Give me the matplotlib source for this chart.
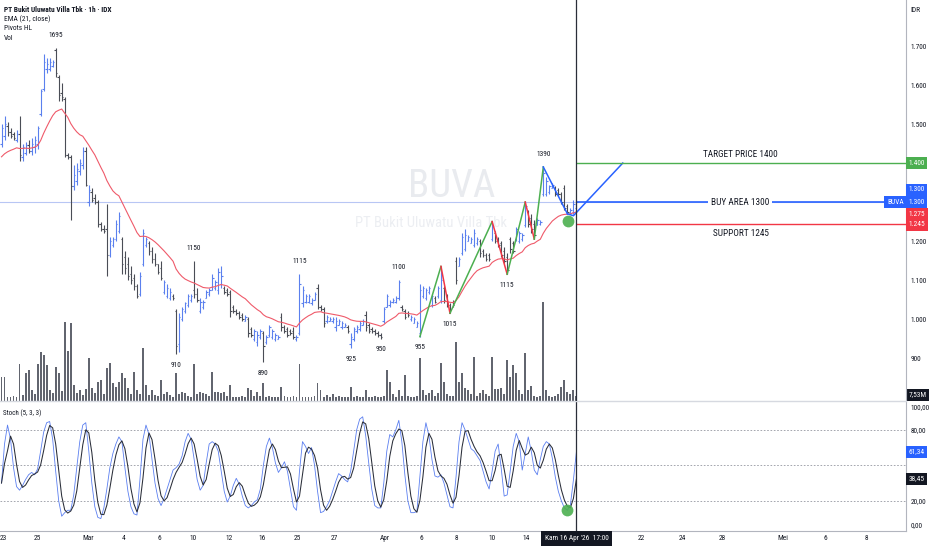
import matplotlib
matplotlib.use("Agg")
import matplotlib.pyplot as plt
import matplotlib.transforms as mtransforms
from matplotlib import font_manager
from matplotlib.ticker import FuncFormatter
import numpy as np
import pandas as pd

# ---------------------------------------------------------------------------
# Data: BUVA, 1h bars, IDX (one bar = one hour)
# ---------------------------------------------------------------------------
opens = [
    1450, 1470, 1495, 1480, 1475, 1460, 1475, 1415, 1425, 1445, 1430, 1440,
    1450, 1525, 1590, 1640, 1640, 1650, 1690, 1620, 1580, 1565, 1420, 1415,
    1340, 1355, 1380, 1395, 1430, 1300, 1325, 1310, 1300, 1245, 1230, 1230,
    1165, 1190, 1205, 1225, 1205, 1160, 1140, 1115, 1105, 1085, 1065, 1140,
    1190, 1195, 1175, 1155, 1140, 1130, 1070, 1060, 1055, 1060, 1020, 935,
    1000, 1020, 1035, 1050, 1075, 1065, 1020, 1030, 1055, 1065, 1075, 1080,
    1075, 1090, 1080, 1075, 1070, 1030, 1020, 1015, 1010, 995, 1000, 975,
    950, 940, 955, 965, 940, 960, 955, 950, 950, 1005, 980, 975,
    970, 970, 950, 965, 1040, 1045, 1045, 1040, 1050, 1080, 1030, 1025,
    995, 995, 995, 980, 985, 980, 980, 980, 935, 950, 970, 975,
    985, 1010, 985, 975, 970, 965, 960, 995, 1030, 1035, 1045, 1045,
    1055, 1030, 1020, 1015, 1000, 990, 980, 965, 1060, 1055, 1070, 1035,
    1055, 1060, 1050, 1080, 1060, 1035, 1045, 1150, 1135, 1170, 1180, 1200,
    1195, 1190, 1195, 1200, 1175, 1165, 1165, 1205, 1220, 1200, 1195, 1175,
    1160, 1205, 1195, 1205, 1200, 1205, 1240, 1275, 1260, 1245, 1240, 1245,
    1320, 1320, 1325, 1335, 1335, 1330, 1320, 1335, 1290, 1270, 1275, 1285,
]
highs = [
    1500, 1520, 1505, 1490, 1480, 1485, 1520, 1450, 1455, 1460, 1465, 1470,
    1495, 1590, 1680, 1670, 1670, 1665, 1695, 1625, 1605, 1570, 1425, 1420,
    1395, 1400, 1410, 1440, 1440, 1345, 1335, 1320, 1305, 1250, 1240, 1295,
    1210, 1210, 1255, 1275, 1210, 1175, 1160, 1135, 1115, 1090, 1120, 1230,
    1210, 1200, 1185, 1170, 1140, 1150, 1100, 1090, 1080, 1065, 1025, 1015,
    1030, 1045, 1065, 1065, 1150, 1080, 1055, 1050, 1075, 1080, 1115, 1100,
    1130, 1135, 1085, 1080, 1075, 1035, 1025, 1020, 1015, 1010, 1005, 980,
    975, 970, 975, 970, 960, 985, 975, 965, 960, 1015, 985, 980,
    975, 980, 960, 1115, 1085, 1065, 1065, 1055, 1070, 1090, 1035, 1030,
    1010, 1005, 1005, 1005, 1000, 995, 990, 985, 965, 980, 985, 995,
    1000, 1020, 990, 980, 975, 970, 965, 1030, 1065, 1050, 1055, 1060,
    1100, 1035, 1025, 1020, 1010, 1005, 995, 1090, 1085, 1080, 1085, 1065,
    1060, 1085, 1135, 1085, 1065, 1040, 1050, 1160, 1160, 1220, 1230, 1215,
    1210, 1230, 1210, 1205, 1180, 1170, 1170, 1250, 1225, 1210, 1200, 1185,
    1170, 1210, 1200, 1235, 1225, 1220, 1300, 1280, 1270, 1255, 1260, 1255,
    1390, 1365, 1345, 1350, 1340, 1335, 1325, 1345, 1295, 1285, 1305, 1305,
]
lows = [
    1440, 1460, 1470, 1465, 1460, 1455, 1405, 1405, 1420, 1425, 1420, 1425,
    1435, 1520, 1585, 1630, 1635, 1645, 1620, 1560, 1560, 1415, 1410, 1255,
    1330, 1345, 1370, 1385, 1340, 1290, 1300, 1295, 1235, 1225, 1220, 1110,
    1160, 1185, 1200, 1220, 1115, 1115, 1100, 1090, 1075, 1055, 1060, 1135,
    1185, 1165, 1145, 1135, 1115, 1100, 1065, 1055, 1050, 1050, 910, 915,
    995, 1015, 1030, 1045, 1055, 1045, 1015, 1025, 1055, 1060, 1075, 1075,
    1065, 1080, 1065, 1060, 1005, 1015, 1010, 1000, 995, 995, 955, 955,
    945, 930, 950, 890, 935, 955, 950, 945, 950, 970, 965, 955,
    960, 950, 945, 960, 1030, 1040, 1040, 1035, 1050, 1025, 1020, 980,
    990, 995, 990, 970, 985, 975, 980, 965, 925, 945, 965, 970,
    985, 970, 965, 965, 960, 955, 950, 990, 1030, 1030, 1040, 1040,
    1050, 1020, 1000, 1005, 995, 990, 980, 955, 1055, 1050, 1065, 1030,
    1040, 1055, 1040, 1040, 1030, 1015, 1030, 1090, 1135, 1165, 1175, 1200,
    1195, 1185, 1190, 1160, 1160, 1150, 1150, 1200, 1195, 1185, 1160, 1145,
    1115, 1170, 1170, 1200, 1195, 1200, 1235, 1235, 1220, 1205, 1240, 1240,
    1315, 1315, 1320, 1335, 1315, 1315, 1295, 1280, 1270, 1270, 1270, 1275,
]
closes = [
    1490, 1500, 1480, 1470, 1465, 1475, 1420, 1440, 1445, 1430, 1450, 1460,
    1490, 1585, 1660, 1655, 1660, 1660, 1630, 1575, 1570, 1420, 1415, 1340,
    1370, 1385, 1400, 1430, 1345, 1330, 1305, 1300, 1245, 1230, 1225, 1165,
    1200, 1205, 1245, 1265, 1140, 1130, 1110, 1100, 1085, 1060, 1110, 1220,
    1205, 1175, 1155, 1140, 1120, 1105, 1095, 1080, 1070, 1055, 930, 1005,
    1025, 1040, 1060, 1060, 1065, 1050, 1045, 1045, 1070, 1075, 1105, 1095,
    1120, 1110, 1070, 1065, 1020, 1020, 1015, 1005, 1000, 1005, 965, 960,
    970, 960, 970, 930, 955, 980, 970, 960, 955, 980, 970, 960,
    965, 955, 955, 1090, 1075, 1060, 1060, 1050, 1065, 1030, 1025, 990,
    1005, 1000, 1000, 995, 995, 990, 985, 970, 955, 975, 980, 990,
    995, 980, 970, 970, 965, 960, 955, 1025, 1060, 1045, 1050, 1055,
    1095, 1025, 1005, 1010, 1005, 1000, 990, 1075, 1080, 1075, 1080, 1060,
    1045, 1080, 1100, 1050, 1040, 1025, 1035, 1100, 1155, 1210, 1215, 1210,
    1205, 1220, 1205, 1170, 1165, 1155, 1155, 1240, 1200, 1190, 1165, 1150,
    1125, 1180, 1175, 1230, 1220, 1215, 1290, 1245, 1230, 1215, 1255, 1250,
    1375, 1355, 1340, 1345, 1320, 1320, 1300, 1285, 1275, 1280, 1295, 1300,
]
# volume in millions of shares
volume_m = [
    36, 36, 6, 6, 8, 6, 55, 9, 42, 46, 16, 10,
    55, 73, 69, 54, 16, 12, 51, 42, 15, 118, 75, 117,
    24, 12, 16, 9, 18, 64, 20, 12, 28, 32, 10, 50,
    57, 27, 21, 28, 42, 34, 20, 10, 44, 16, 10, 80,
    24, 9, 16, 9, 8, 32, 10, 14, 9, 6, 42, 10,
    14, 12, 8, 6, 55, 11, 14, 12, 10, 8, 44, 14,
    14, 12, 14, 8, 24, 6, 6, 6, 8, 6, 20, 16,
    8, 14, 8, 27, 6, 8, 6, 6, 6, 21, 8, 6,
    6, 8, 6, 55, 6, 6, 6, 6, 8, 27, 16, 6,
    9, 6, 10, 6, 8, 6, 6, 6, 21, 6, 8, 6,
    6, 16, 6, 6, 8, 6, 6, 8, 46, 28, 10, 6,
    16, 8, 39, 8, 6, 6, 8, 64, 16, 9, 12, 16,
    8, 12, 57, 28, 10, 8, 8, 88, 28, 42, 20, 16,
    10, 66, 8, 12, 16, 10, 8, 66, 18, 18, 20, 10,
    62, 36, 54, 42, 16, 10, 72, 16, 22, 8, 6, 8,
    148, 16, 8, 6, 8, 10, 21, 32, 14, 10, 16, 7.53,
]
# Stoch (5, 3, 3) %K
stoch_k = [
    35, 68, 84, 72, 48, 32, 29, 33, 38, 42, 44, 42,
    47, 62, 78, 86, 87, 72, 45, 20, 7, 10, 12, 12,
    25, 48, 70, 84, 86, 62, 35, 15, 6, 5, 14, 30,
    48, 60, 68, 74, 70, 48, 28, 15, 9, 8, 38, 72,
    84, 76, 55, 35, 22, 16, 22, 30, 38, 46, 48, 51,
    58, 70, 77, 72, 55, 38, 29, 33, 52, 68, 70, 68,
    62, 45, 28, 19, 24, 33, 39, 34, 24, 16, 14, 16,
    19, 21, 30, 50, 66, 73, 65, 52, 44, 48, 53, 45,
    30, 15, 12, 45, 70, 66, 60, 65, 50, 28, 10, 11,
    15, 20, 28, 36, 43, 41, 38, 36, 45, 62, 80, 89,
    91, 75, 52, 30, 16, 14, 14, 35, 62, 76, 74, 80,
    88, 70, 42, 20, 10, 10, 11, 40, 70, 86, 75, 55,
    41, 40, 42, 35, 25, 15, 14, 40, 70, 86, 80, 72,
    64, 62, 58, 54, 45, 36, 30, 45, 62, 68, 48, 24,
    25, 45, 66, 77, 70, 46, 60, 74, 62, 46, 42, 55,
    66, 70, 68, 56, 40, 28, 20, 14, 12, 16.5, 37.5, 61.34,
]
EMA_START = 1416          # EMA(21) value at the first visible bar
EMA_LEN = 21

# pivot (zigzag) bars, starting with a low
zz_bars = [139, 146, 149, 163, 168, 174, 177, 180, 188]
# labelled pivots of the "Pivots HL" study
pivot_high_bars = [18, 64, 99, 132, 180]
pivot_low_bars = [58, 87, 116, 126, 139, 149, 168]

# user drawings
TARGET = 1400
BUY = 1300
SUPPORT = 1245
proj_bars = [188, 190, 206.4]
proj_prices = [1270, 1265, TARGET]
signal_bar = 188
cursor_bar = 191

# time axis (bar position, label)
tick_pos = [0.5, 11.8, 28.7, 40.7, 52.3, 63.6, 75.6, 86.5, 98.2, 110.5, 127.4,
            139.4, 151, 163, 174.3, 212.5, 226.1, 239.4, 259.6, 273.6, 287.2]
tick_labels = ["23", "25", "Mar", "4", "6", "10", "12", "16", "25", "27", "Apr",
               "6", "8", "10", "14", "22", "24", "28", "Mei", "6", "8"]

# ---------------------------------------------------------------------------
# Styling
# ---------------------------------------------------------------------------
names = {f.name for f in font_manager.fontManager.ttflist}
FONT = "DejaVu Sans"
for cand in ["Liberation Sans Narrow", "Roboto Condensed", "Roboto", "Liberation Sans"]:
    if cand in names:
        FONT = cand
        break
plt.rcParams["font.family"] = [FONT, "DejaVu Sans"]

TEXT = "#131722"
UP = "#5b80ee"
DOWN = "#4a4d56"
EMA_C = "#ef5a6a"
GREEN = "#4caf50"
RED = "#f23645"
BLUE = "#2962ff"
FS = 5.3
LEVEL_FS = 6.7

W, H = 932, 550


def px_box(x0, y0, x1, y1):
    return [x0 / W, 1 - y1 / H, (x1 - x0) / W, (y1 - y0) / H]


idx = np.arange(len(closes))
o = np.array(opens)
h = np.array(highs)
lo = np.array(lows)
c = np.array(closes)

# EMA(21) on close
alpha = 2 / (EMA_LEN + 1)
ema = [EMA_START]
for price in closes[1:]:
    ema.append(ema[-1] + alpha * (price - ema[-1]))
ema = np.array(ema)

stoch_d = pd.Series(stoch_k).rolling(3, min_periods=1).mean().to_numpy()

fig = plt.figure(figsize=(W / 100, H / 100), dpi=100)
fig.patch.set_facecolor("white")

ax = fig.add_axes(px_box(0, 0, 906, 401))
vax = ax.twinx()
sax = fig.add_axes(px_box(0, 402, 906, 531))

XMIN, XMAX = -0.5, 300.5
ax.set_xlim(XMIN, XMAX)
ax.set_ylim(790, 1818)
vax.set_ylim(0, 601)
sax.set_xlim(XMIN, XMAX)
sax.set_ylim(-5.5, 103.5)

ax.set_zorder(2)
vax.set_zorder(1)
ax.patch.set_visible(False)
vax.set_axis_off()

# watermark
ax.text(0.498, 0.535, "BUVA", transform=ax.transAxes, ha="center", va="center",
        fontsize=28, color="#e9ebef", zorder=0)
ax.text(0.476, 0.445, "PT Bukit Uluwatu Villa Tbk", transform=ax.transAxes,
        ha="center", va="center", fontsize=10.5, color="#eceef2", zorder=0)

# volume
vax.bar(idx, volume_m, width=0.62, color="#62656f", linewidth=0)

# OHLC bars
cols = np.where(c >= o, UP, DOWN)
ax.vlines(idx, lo, h, colors=cols, lw=0.8, zorder=3)
ax.hlines(o, idx - 0.45, idx, colors=cols, lw=0.8, zorder=3)
ax.hlines(c, idx, idx + 0.45, colors=cols, lw=0.8, zorder=3)

# EMA
ax.plot(idx, ema, color=EMA_C, lw=0.8, zorder=4)

# last price line
ax.axhline(closes[-1], color="#b8c6f4", lw=0.8, zorder=1)

# zigzag between pivots
zz_price = [lows[b] if k % 2 == 0 else highs[b] for k, b in enumerate(zz_bars)]
for k in range(len(zz_bars) - 1):
    if k == len(zz_bars) - 2:
        col = BLUE
    else:
        col = GREEN if k % 2 == 0 else RED
    ax.plot(zz_bars[k:k + 2], zz_price[k:k + 2], color=col, lw=1.1, zorder=5)
ax.plot(proj_bars, proj_prices, color=BLUE, lw=1.1, zorder=5)

# pivot labels
for b in pivot_high_bars:
    ax.annotate(f"{highs[b]}", (b, highs[b]), xytext=(0, 9), textcoords="offset points",
                ha="center", va="center", fontsize=FS, color=TEXT)
for b in pivot_low_bars:
    ax.annotate(f"{lows[b]}", (b, lows[b]), xytext=(0, -8), textcoords="offset points",
                ha="center", va="center", fontsize=FS, color=TEXT)

# signal markers (drawn a few pixels under the pivot low)
below = mtransforms.ScaledTranslation(1 / 100, -7 / 100, fig.dpi_scale_trans)
ax.plot([signal_bar], [lows[signal_bar]], "o", ms=8.5, color=GREEN, alpha=0.9,
        mew=0, zorder=6, transform=ax.transData + below)

# horizontal level drawings
ax.hlines(TARGET, cursor_bar, XMAX, color=GREEN, lw=1.0, zorder=5)
ax.hlines(BUY, cursor_bar, XMAX, color=BLUE, lw=1.2, zorder=5)
ax.hlines(SUPPORT, cursor_bar, XMAX, color=RED, lw=1.0, zorder=5)
ax.annotate(f"TARGET PRICE {TARGET}", (245.5, TARGET), xytext=(0, 6.5),
            textcoords="offset points", ha="center", va="center", fontsize=LEVEL_FS,
            color=TEXT)
ax.text(245.5, BUY, f"BUY AREA {BUY}", ha="center", va="center", fontsize=LEVEL_FS,
        color=TEXT, zorder=6, bbox=dict(boxstyle="square,pad=0.3", fc="white", ec="none"))
ax.annotate(f"SUPPORT {SUPPORT}", (245.5, SUPPORT), xytext=(0, -7),
            textcoords="offset points", ha="center", va="center", fontsize=LEVEL_FS,
            color=TEXT)

# crosshair
ax.axvline(cursor_bar, color="#2a2e39", lw=0.9, zorder=7)
sax.axvline(cursor_bar, color="#2a2e39", lw=0.9, zorder=7)

# price axis on the right (1.300 / 1.400 sit under the level tags)
ax.set_xticks([])
ax.yaxis.tick_right()
ax.set_yticks([900, 1000, 1100, 1200, 1500, 1600, 1700])
ax.yaxis.set_major_formatter(FuncFormatter(lambda v, p: f"{v:,.0f}".replace(",", ".")))
ax.tick_params(axis="y", length=0, pad=3.5, labelsize=FS, labelcolor=TEXT)
for side in ("top", "left"):
    ax.spines[side].set_visible(False)
ax.spines["right"].set_color("#b2b5be")
ax.spines["right"].set_linewidth(0.8)
ax.spines["bottom"].set_color("#d6d9e0")
ax.spines["bottom"].set_linewidth(1.0)


def fmt_price(v):
    return f"{v:,.0f}".replace(",", ".")


def tag(axis, y, text, fc, x_px=2.5, ha="left", tc="white"):
    tr = mtransforms.blended_transform_factory(axis.transAxes, axis.transData)
    axis.text(1 + x_px / 906, y, text, transform=tr, ha=ha, va="center", fontsize=FS,
              color=tc, clip_on=False, zorder=10,
              bbox=dict(boxstyle="square,pad=0.35", fc=fc, ec="none"))


tag(ax, TARGET, fmt_price(TARGET), GREEN)
tag(ax, BUY + 31, fmt_price(BUY), BLUE)
tag(ax, closes[-1], fmt_price(closes[-1]), BLUE)
tag(ax, closes[-1], "BUVA", BLUE, x_px=-2.5, ha="right")
tag(ax, ema[-1] - 6, fmt_price(ema[-1]), RED)
tag(ax, SUPPORT - 3, fmt_price(SUPPORT), RED)
tag(vax, volume_m[-1] + 2, f"{volume_m[-1]:.2f}".replace(".", ",") + "M", "#131722")
fig.text(910 / W, 1 - 10 / H, "IDR", fontsize=FS, color=TEXT, va="center")

# legend lines, top left
fig.text(4 / W, 1 - 9.5 / H, "PT Bukit Uluwatu Villa Tbk · 1h · IDX", fontsize=FS,
         color=TEXT, va="center", fontweight="bold")
for k, s in enumerate(["EMA (21, close)", "Pivots HL", "Vol"]):
    fig.text(4 / W, 1 - (19.5 + 9.5 * k) / H, s, fontsize=FS, color=TEXT, va="center")

# ---------------------------------------------------------------------------
# Stochastic pane
# ---------------------------------------------------------------------------
for lvl in (80, 50, 20):
    sax.axhline(lvl, color="#9598a1", lw=0.6, ls=(0, (2, 2)), zorder=1)
sax.plot(idx, stoch_k, color="#5b7ff0", lw=0.6, zorder=3)
sax.plot(idx, stoch_d, color="#2a2e39", lw=0.75, zorder=3)
sax.plot([signal_bar], [stoch_k[signal_bar]], "o", ms=8.5, color=GREEN, alpha=0.9,
         mew=0, zorder=6)
sax.text(3 / 906, 0.91, "Stoch (5, 3, 3)", transform=sax.transAxes, fontsize=FS - 0.3,
         color=TEXT, va="center")

sax.yaxis.tick_right()
sax.set_yticks([0, 20, 80, 100])
sax.yaxis.set_major_formatter(FuncFormatter(lambda v, p: f"{v:.2f}".replace(".", ",")))
sax.tick_params(axis="y", length=0, pad=3.5, labelsize=FS, labelcolor=TEXT)
sax.set_xticks(tick_pos)
sax.set_xticklabels(tick_labels)
sax.tick_params(axis="x", length=0, pad=3, labelsize=FS, labelcolor=TEXT)
for side in ("top", "left"):
    sax.spines[side].set_visible(False)
sax.spines["right"].set_color("#b2b5be")
sax.spines["right"].set_linewidth(0.8)
sax.spines["bottom"].set_color("#b2b5be")
sax.spines["bottom"].set_linewidth(0.8)

tag(sax, stoch_k[-1], f"{stoch_k[-1]:.2f}".replace(".", ","), BLUE)
tag(sax, stoch_d[-1], f"{stoch_d[-1]:.2f}".replace(".", ","), "#131722")

# date box under the crosshair
sax.text(cursor_bar, -0.058, "Kam 16 Apr '26  17:00",
         transform=mtransforms.blended_transform_factory(sax.transData, sax.transAxes),
         ha="center", va="center", fontsize=FS, color="white", zorder=10, clip_on=False,
         bbox=dict(boxstyle="square,pad=0.5", fc="#131722", ec="none"))

fig.savefig("out.png", dpi=100, facecolor="white")
